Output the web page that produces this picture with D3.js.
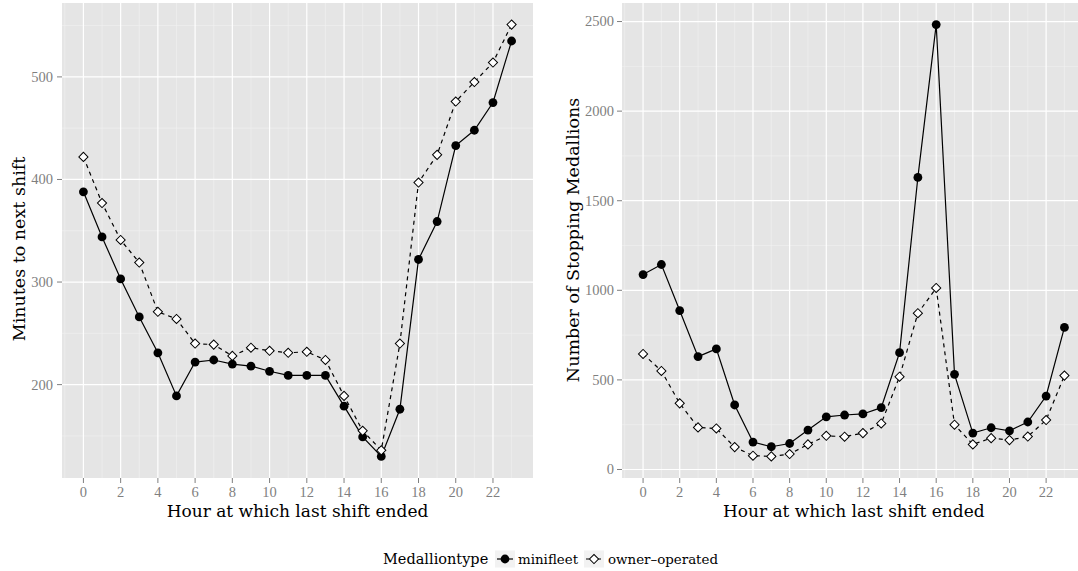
<!DOCTYPE html>
<html>
<head>
<meta charset="utf-8">
<script src="https://cdn.jsdelivr.net/npm/d3@7"></script>
<style>
  body { margin: 0; background: #ffffff; }
  svg { display: block; }
</style>
</head>
<body>
<svg id="chart" width="1078" height="571"></svg>
<script>
// Hour of day at which the last shift ended
const hours = [0, 1, 2, 3, 4, 5, 6, 7, 8, 9, 10, 11, 12, 13, 14, 15, 16, 17, 18, 19, 20, 21, 22, 23];

// Minutes until the next shift starts
const minutesMinifleet = [388, 344, 303, 266, 231, 189, 222, 224, 220, 218, 213, 209, 209, 209, 179, 149, 130, 176, 322, 359, 433, 448, 475, 535];
const minutesOwner     = [422, 377, 341, 319, 271, 264, 240, 239, 228, 236, 233, 231, 232, 224, 189, 155, 136, 240, 397, 424, 476, 495, 514, 551];

// Number of medallions stopping at each hour
const stoppingMinifleet = [1088, 1144, 887, 630, 673, 360, 153, 127, 145, 220, 294, 304, 310, 345, 652, 1630, 2483, 531, 203, 233, 216, 265, 410, 793];
const stoppingOwner     = [645, 550, 369, 235, 229, 125, 77, 73, 86, 140, 188, 183, 203, 257, 518, 872, 1013, 250, 140, 175, 164, 184, 276, 524];

const xTicks = [0, 2, 4, 6, 8, 10, 12, 14, 16, 18, 20, 22];
const minutesTicks = [200, 300, 400, 500];
const stoppingTicks = [0, 500, 1000, 1500, 2000, 2500];

const seriesNames = ["minifleet", "owner\u2013operated"];
const legendTitle = "Medalliontype";
const xTitle = "Hour at which last shift ended";

const svg = d3.select("#chart");
const TITLE_FONT = "'DejaVu Serif', serif";
const TICK_FONT = "'Liberation Serif', 'DejaVu Serif', serif";

const panelTop = 3, panelBottom = 478;

// ggplot-style continuous expansion: 5% of the data range on each side
function expanded(values) {
  const [lo, hi] = d3.extent(values);
  const pad = (hi - lo) * 0.05;
  return [lo - pad, hi + pad];
}

// minor breaks sit halfway between major breaks (extended one step outward)
function minorBreaks(major, domain) {
  const step = major[1] - major[0];
  const ext = [major[0] - step, ...major, major[major.length - 1] + step];
  const out = [];
  for (let i = 0; i < ext.length - 1; i++) out.push((ext[i] + ext[i + 1]) / 2);
  return out.filter(v => v >= domain[0] && v <= domain[1]);
}

const diamond = d3.symbol().type(d3.symbolSquare).size(42);

function drawPanel(opts) {
  const { id, left, right, yValues, yTicks, yTitle, yTitleX, yTitleY, labelRight } = opts;
  const x = d3.scaleLinear().domain(expanded(hours)).range([left, right]);
  const y = d3.scaleLinear().domain(expanded(yValues.flat())).range([panelBottom, panelTop]);

  const g = svg.append("g");
  const clipId = "clip-" + id;
  svg.append("defs").append("clipPath").attr("id", clipId)
    .append("rect").attr("x", left).attr("y", panelTop)
    .attr("width", right - left).attr("height", panelBottom - panelTop);

  const panel = g.append("g").attr("clip-path", `url(#${clipId})`);
  panel.append("rect")
    .attr("x", left).attr("y", panelTop)
    .attr("width", right - left).attr("height", panelBottom - panelTop)
    .attr("fill", "#e5e5e5");

  const xMinor = minorBreaks(xTicks, x.domain());
  const yMinor = minorBreaks(yTicks, y.domain());

  panel.append("g").selectAll("line").data(yMinor).join("line")
    .attr("x1", left).attr("x2", right)
    .attr("y1", d => y(d)).attr("y2", d => y(d))
    .attr("stroke", "#f2f2f2").attr("stroke-width", 0.6);
  panel.append("g").selectAll("line").data(xMinor).join("line")
    .attr("y1", panelTop).attr("y2", panelBottom)
    .attr("x1", d => x(d)).attr("x2", d => x(d))
    .attr("stroke", "#f2f2f2").attr("stroke-width", 0.6);
  panel.append("g").selectAll("line").data(yTicks).join("line")
    .attr("x1", left).attr("x2", right)
    .attr("y1", d => y(d)).attr("y2", d => y(d))
    .attr("stroke", "#ffffff").attr("stroke-width", 1.2);
  panel.append("g").selectAll("line").data(xTicks).join("line")
    .attr("y1", panelTop).attr("y2", panelBottom)
    .attr("x1", d => x(d)).attr("x2", d => x(d))
    .attr("stroke", "#ffffff").attr("stroke-width", 1.2);

  const line = d3.line().x((d, i) => x(hours[i])).y(d => y(d));
  panel.append("path").datum(yValues[0]).attr("d", line)
    .attr("fill", "none").attr("stroke", "#000").attr("stroke-width", 1.2);
  panel.append("path").datum(yValues[1]).attr("d", line)
    .attr("fill", "none").attr("stroke", "#000").attr("stroke-width", 1.2)
    .attr("stroke-dasharray", "4,4");

  panel.append("g").selectAll("circle").data(yValues[0]).join("circle")
    .attr("cx", (d, i) => x(hours[i])).attr("cy", d => y(d))
    .attr("r", 4.4).attr("fill", "#000");
  panel.append("g").selectAll("path").data(yValues[1]).join("path")
    .attr("d", diamond)
    .attr("transform", (d, i) => `translate(${x(hours[i])},${y(d)}) rotate(45)`)
    .attr("fill", "#fff").attr("stroke", "#000").attr("stroke-width", 1);

  // x axis: ticks and labels
  const ax = g.append("g");
  ax.selectAll("line").data(xTicks).join("line")
    .attr("x1", d => x(d)).attr("x2", d => x(d))
    .attr("y1", panelBottom).attr("y2", panelBottom + 5)
    .attr("stroke", "#7f7f7f").attr("stroke-width", 1);
  ax.selectAll("text").data(xTicks).join("text")
    .attr("x", d => x(d)).attr("y", 497)
    .attr("text-anchor", "middle")
    .attr("font-family", TICK_FONT).attr("font-size", 14.5)
    .attr("fill", "#7f7f7f").text(d => d);

  // y axis: ticks and labels
  const ay = g.append("g");
  ay.selectAll("line").data(yTicks).join("line")
    .attr("x1", left - 5).attr("x2", left)
    .attr("y1", d => y(d)).attr("y2", d => y(d))
    .attr("stroke", "#7f7f7f").attr("stroke-width", 1);
  ay.selectAll("text").data(yTicks).join("text")
    .attr("x", labelRight).attr("y", d => y(d)).attr("dy", "0.34em")
    .attr("text-anchor", "end")
    .attr("font-family", TICK_FONT).attr("font-size", 14.5)
    .attr("fill", "#7f7f7f").text(d => d);

  // axis titles
  g.append("text")
    .attr("x", (left + right) / 2).attr("y", 517)
    .attr("text-anchor", "middle")
    .attr("font-family", TITLE_FONT).attr("font-size", 17)
    .attr("fill", "#000").text(xTitle);
  g.append("text")
    .attr("transform", `translate(${yTitleX},${yTitleY}) rotate(-90)`)
    .attr("text-anchor", "middle")
    .attr("font-family", TITLE_FONT).attr("font-size", 17.5)
    .attr("fill", "#000").text(yTitle);
}

drawPanel({
  id: "minutes", left: 62, right: 533,
  yValues: [minutesMinifleet, minutesOwner], yTicks: minutesTicks,
  yTitle: "Minutes to next shift", yTitleX: 25, yTitleY: 249, labelRight: 53
});

drawPanel({
  id: "stopping", left: 622, right: 1085.5,
  yValues: [stoppingMinifleet, stoppingOwner], yTicks: stoppingTicks,
  yTitle: "Number of Stopping Medallions", yTitleX: 579, yTitleY: 240, labelRight: 614
});

// legend
const lg = svg.append("g");
const legendY = 559;
lg.append("text")
  .attr("x", 383).attr("y", legendY + 5)
  .attr("font-family", TITLE_FONT).attr("font-size", 14.5)
  .attr("fill", "#000").text(legendTitle);

const keys = [
  { name: seriesNames[0], keyX: 495, textX: 518, dash: null },
  { name: seriesNames[1], keyX: 584, textX: 608, dash: "4,4" }
];
keys.forEach((k, i) => {
  lg.append("rect").attr("x", k.keyX).attr("y", legendY - 8.5)
    .attr("width", 20).attr("height", 17).attr("fill", "#f2f2f2");
  const ln = lg.append("line")
    .attr("x1", k.keyX + 2).attr("x2", k.keyX + 18)
    .attr("y1", legendY).attr("y2", legendY)
    .attr("stroke", "#000").attr("stroke-width", 1.2);
  if (k.dash) ln.attr("stroke-dasharray", "3,3");
  if (i === 0) {
    lg.append("circle").attr("cx", k.keyX + 10).attr("cy", legendY)
      .attr("r", 4.4).attr("fill", "#000");
  } else {
    lg.append("path").attr("d", diamond)
      .attr("transform", `translate(${k.keyX + 10},${legendY}) rotate(45)`)
      .attr("fill", "#fff").attr("stroke", "#000").attr("stroke-width", 1);
  }
  lg.append("text")
    .attr("x", k.textX).attr("y", legendY + 5)
    .attr("font-family", TITLE_FONT).attr("font-size", 13.4)
    .attr("fill", "#000").text(k.name);
});
</script>
</body>
</html>
